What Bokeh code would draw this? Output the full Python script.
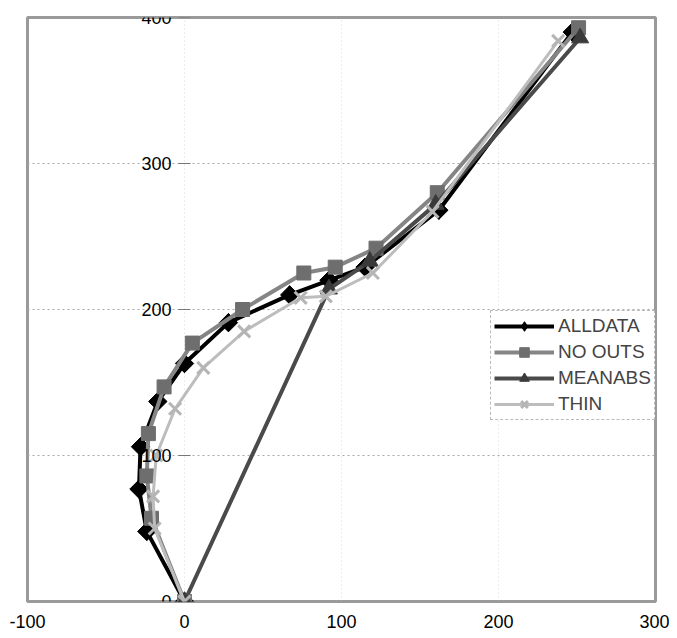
import math
from bokeh.plotting import figure
from bokeh.models import Range1d, ColumnDataSource, LabelSet, Legend, LegendItem, FixedTicker
from bokeh.core.properties import value
from bokeh.embed import file_html
from bokeh.resources import INLINE

# ---- data ----
x_ticks = [-100, 0, 100, 200, 300]
y_ticks = [0, 100, 200, 300, 400]

alldata_x = [0, -24, -29, -28, -17, 0, 28, 67, 92, 115, 162, 247]
alldata_y = [0, 48, 77, 106, 137, 163, 191, 210, 220, 229, 268, 390]

noouts_x = [0, -21, -24, -23, -13, 5, 37, 76, 96, 122, 161, 251]
noouts_y = [0, 57, 86, 115, 147, 177, 200, 225, 229, 242, 280, 393]

meanabs_x = [0, 92, 118, 160, 252]
meanabs_y = [0, 214, 233, 272, 386]

thin_x = [0, -19, -20, -18, -6, 12, 38, 74, 90, 120, 158, 238]
thin_y = [0, 50, 72, 100, 132, 160, 185, 208, 209, 225, 267, 384]

series_names = ["ALLDATA", "NO OUTS", "MEANABS", "THIN"]

FONT = "Liberation Sans"

p = figure(width=669, height=630, output_backend="svg", toolbar_location=None,
           x_range=Range1d(-100, 300), y_range=Range1d(0, 400),
           min_border_left=27, min_border_right=14, min_border_top=17, min_border_bottom=27)

p.outline_line_color = "#9a9a9a"
p.outline_line_width = 3
p.background_fill_color = "white"
p.border_fill_color = "white"

# axes
p.yaxis.visible = False
p.xaxis.ticker = FixedTicker(ticks=x_ticks)
p.xaxis.major_label_overrides = {t: str(t) for t in x_ticks}
p.xaxis.axis_line_color = None
p.xaxis.major_tick_line_color = None
p.xaxis.minor_tick_line_color = None
p.xaxis.major_label_text_font = FONT
p.xaxis.major_label_text_font_size = "18px"
p.xaxis.major_label_text_color = "black"
p.xaxis.major_label_standoff = 7

# grids
p.xgrid.ticker = FixedTicker(ticks=[0, 100, 200])
p.ygrid.ticker = FixedTicker(ticks=[100, 200, 300])
p.xgrid.grid_line_color = "#c0c0c0"
p.xgrid.grid_line_dash = "1 3"
p.xgrid.grid_line_alpha = 0.6
p.ygrid.grid_line_color = "#a8a8a8"
p.ygrid.grid_line_dash = "2 3"

# y "axis" at x = 0: tick marks and labels
ysrc = ColumnDataSource(dict(x=[0] * len(y_ticks), y=y_ticks, t=[str(v) for v in y_ticks]))
p.scatter("x", "y", source=ysrc, marker="dash", size=12, line_color="#777777", line_width=1)
labels = LabelSet(x="x", y="y", text="t", source=ysrc, x_offset=-13,
                  text_align="right", text_baseline="middle",
                  text_font_size=value("18px"), text_font=value(FONT),
                  text_color="black", level="overlay")
p.add_layout(labels)

# series
l1 = p.line(alldata_x, alldata_y, line_color="black", line_width=4)
m1 = p.scatter(alldata_x, alldata_y, marker="square", angle=math.pi / 4, size=13,
               fill_color="black", line_color="black")
m1b = p.scatter(alldata_x, alldata_y, marker="diamond", size=18,
                fill_color="black", line_color="black")

l2 = p.line(noouts_x, noouts_y, line_color="#858585", line_width=4)
m2 = p.scatter(noouts_x, noouts_y, marker="square", size=14, fill_color="#6e6e6e", line_color="#6e6e6e")

l3 = p.line(meanabs_x, meanabs_y, line_color="#4a4a4a", line_width=4)
m3 = p.scatter(meanabs_x, meanabs_y, marker="triangle", size=17, fill_color="#3a3a3a", line_color="#3a3a3a")

l4 = p.line(thin_x, thin_y, line_color="#bdbdbd", line_width=3)
m4 = p.scatter(thin_x, thin_y, marker="x", size=17, line_color="#b5b5b5", line_width=3)

legend = Legend(items=[
    LegendItem(label=series_names[0], renderers=[l1, m1b]),
    LegendItem(label=series_names[1], renderers=[l2, m2]),
    LegendItem(label=series_names[2], renderers=[l3, m3]),
    LegendItem(label=series_names[3], renderers=[l4, m4]),
], location=(463, 181))
legend.label_text_font = FONT
legend.label_text_font_size = "19px"
legend.glyph_width = 60
legend.glyph_height = 24
legend.label_height = 24
legend.spacing = 2
legend.padding = 3
legend.margin = 0
legend.label_standoff = 4
legend.border_line_color = "#777777"
legend.border_line_dash = "2 2"
legend.border_line_width = 1
legend.background_fill_alpha = 1
p.add_layout(legend)

open("out.html", "w").write(file_html(p, INLINE))
